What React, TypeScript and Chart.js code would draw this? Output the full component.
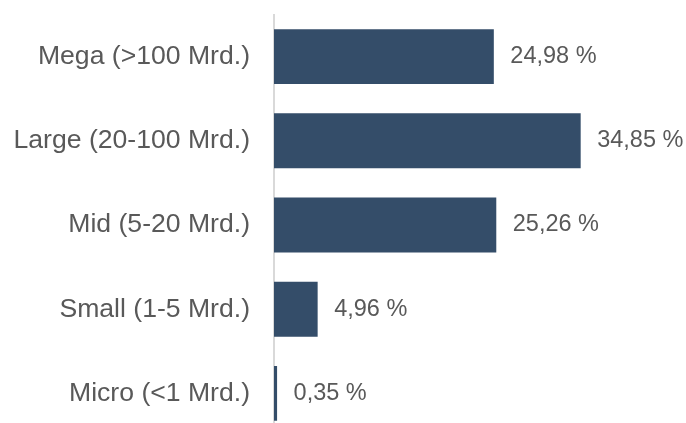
import React, { useEffect, useRef } from "react";
import { Chart, registerables } from "chart.js";

Chart.register(...registerables);

const categories = [
  "Mega (>100 Mrd.)",
  "Large (20-100 Mrd.)",
  "Mid (5-20 Mrd.)",
  "Small (1-5 Mrd.)",
  "Micro (<1 Mrd.)",
];
const shares = [24.98, 34.85, 25.26, 4.96, 0.35];

const BAR_COLOR = "#344D69";
const TEXT_COLOR = "#595959";
const FONT = "'Liberation Sans', Arial, sans-serif";

const valueLabels = {
  id: "valueLabels",
  afterDatasetsDraw(chart: any) {
    const ctx = chart.ctx;
    const meta = chart.getDatasetMeta(0);
    ctx.save();
    ctx.fillStyle = TEXT_COLOR;
    ctx.font = `23.5px ${FONT}`;
    ctx.textAlign = "left";
    ctx.textBaseline = "middle";
    meta.data.forEach((bar: any, i: number) => {
      const txt = shares[i].toFixed(2).replace(".", ",") + " %";
      ctx.fillText(txt, bar.x + 16.5, bar.y);
    });
    ctx.restore();
  },
};

export default function App() {
  const ref = useRef<HTMLCanvasElement>(null);
  useEffect(() => {
    if (!ref.current) return;
    const chart = new Chart(ref.current, {
      type: "bar",
      data: {
        labels: categories,
        datasets: [
          {
            data: shares,
            backgroundColor: BAR_COLOR,
            borderWidth: 0,
            categoryPercentage: 1,
            barPercentage: 0.652,
          },
        ],
      },
      options: {
        indexAxis: "y",
        animation: false,
        responsive: true,
        maintainAspectRatio: false,
        layout: { padding: { top: 14.5, bottom: 4.5, left: 0, right: 60 } },
        plugins: {
          legend: { display: false },
          tooltip: { enabled: false },
        },
        scales: {
          x: { display: false, min: 0, max: 40 },
          y: {
            grid: { display: false, drawTicks: false },
            border: { display: true, color: "#D9D9D9", width: 2 },
            ticks: {
              color: TEXT_COLOR,
              font: { family: FONT, size: 26.6 },
              padding: 24,
            },
            afterFit: (scale: any) => {
              scale.width = 274;
              scale.paddingTop = 0;
              scale.paddingBottom = 0;
            },
          },
        },
      },
      plugins: [valueLabels],
    });
    return () => chart.destroy();
  }, []);
  return (
    <div
      style={{
        position: "fixed",
        left: 0,
        top: 0,
        width: 686,
        height: 423,
        overflow: "hidden",
        background: "#fff",
      }}
    >
      <div style={{ position: "relative", width: 686, height: 440 }}>
        <canvas ref={ref} />
      </div>
    </div>
  );
}
